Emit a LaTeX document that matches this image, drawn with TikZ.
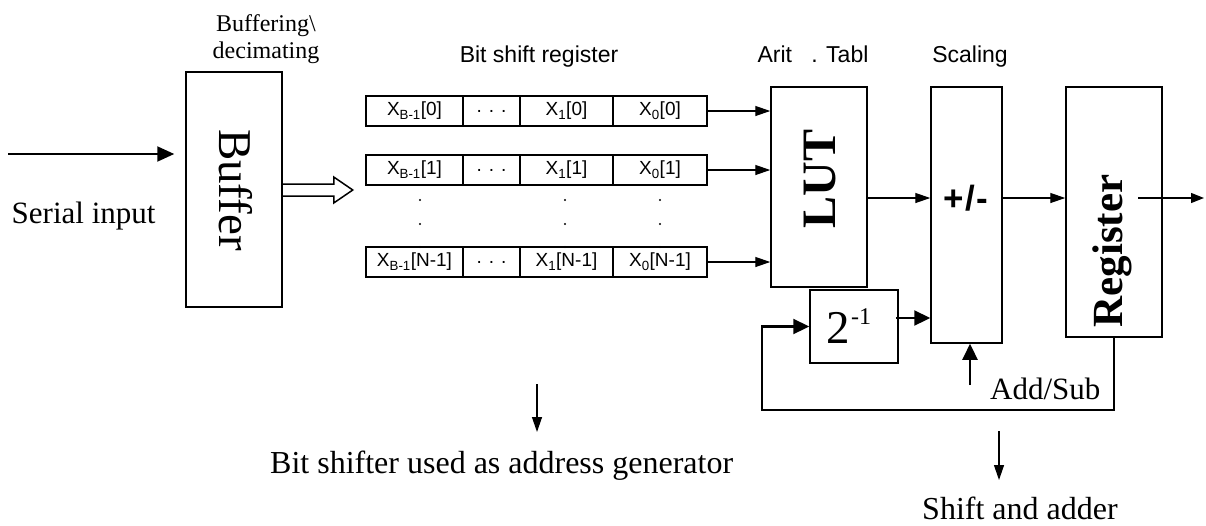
\documentclass[tikz,border=0pt]{standalone}
\usepackage{fontspec}
\setmainfont{Liberation Serif}
\newfontfamily\arialf{Liberation Sans}
\usetikzlibrary{arrows.meta,calc}
\begin{document}
\begin{tikzpicture}[x=1pt,y=-1pt,
  blk/.style={draw, line width=1.5pt, inner sep=0pt},
  cell/.style={draw, line width=1.3pt, minimum height=30pt, inner sep=0pt, font=\arialf\fontsize{19}{22}\selectfont},
  tarr/.style={line width=1.3pt, -{Triangle[length=15pt,width=10pt]}},
  karr/.style={line width=2.2pt, -{Triangle[length=16pt,width=15pt]}},
  lbl/.style={inner sep=0pt, font=\arialf\fontsize{23}{27}\selectfont},
  txt/.style={inner sep=0pt}
]
\useasboundingbox (0,0) rectangle (1206,525);

% buffer
\node[blk, minimum width=96pt, minimum height=235pt] (buf) at (234,189.5) {};
\node[txt, rotate=-90, font=\fontsize{47}{50}\selectfont] (buft) at (235.5,190) {Buffer};
\node[txt, align=center, font=\fontsize{24}{27}\selectfont] (bufl) at (266,39.5) {Buffering\textbackslash\\decimating};

% serial input
\coordinate (sin) at (8,154);
\draw[line width=2pt, -{Triangle[length=17pt,width=15pt]}] (sin) -- ($(sin -| buf.west)+(-11,0)$);
\node[txt, anchor=base west, font=\fontsize{31}{34}\selectfont] (serial) at (11.5,223) {Serial input};

% hollow arrow
\draw[line width=1.5pt, line join=miter] ($(buf.east)+(0,-5.5)$) -- ($(buf.east)+(51,-5.5)$) -- ($(buf.east)+(51,-12.5)$) -- ($(buf.east)+(70,0.5)$) -- ($(buf.east)+(51,13.5)$) -- ($(buf.east)+(51,6.5)$) -- ($(buf.east)+(0,6.5)$);

% shift register rows
\node[cell, minimum width=97pt] (a0) at (414.5,111) {X\textsubscript{B-1}[0]};
\node[cell, minimum width=57pt] (b0) at (491.5,111) {. . .};
\node[cell, minimum width=93pt] (c0) at (566.5,111) {X\textsubscript{1}[0]};
\node[cell, minimum width=94pt] (d0) at (660,111) {X\textsubscript{0}[0]};

\node[cell, minimum width=97pt] (a1) at (414.5,170) {X\textsubscript{B-1}[1]};
\node[cell, minimum width=57pt] (b1) at (491.5,170) {. . .};
\node[cell, minimum width=93pt] (c1) at (566.5,170) {X\textsubscript{1}[1]};
\node[cell, minimum width=94pt] (d1) at (660,170) {X\textsubscript{0}[1]};

\node[cell, minimum width=97pt] (a2) at (414.5,262) {X\textsubscript{B-1}[N-1]};
\node[cell, minimum width=57pt] (b2) at (491.5,262) {. . .};
\node[cell, minimum width=93pt] (c2) at (566.5,262) {X\textsubscript{1}[N-1]};
\node[cell, minimum width=94pt] (d2) at (660,262) {X\textsubscript{0}[N-1]};

\foreach \x in {420,565,660} \foreach \y in {200,224,247} \fill (\x,\y) circle (1.2pt);

% top labels
\node[lbl, anchor=base] (bsr) at (539,62) {Bit shift register};
\node[lbl, anchor=base] (arit) at (813,62) {Arit\ \ \ . Tabl};
\node[lbl, anchor=base] (scal) at (970,62) {Scaling};

% LUT
\node[blk, minimum width=96pt, minimum height=200pt] (lut) at (819,187) {};
\node[txt, rotate=90, font=\bfseries\fontsize{48}{50}\selectfont] (lutt) at (820,179) {LUT};
\draw[tarr] (d0.east) -- (d0.east -| lut.west);
\draw[tarr] (d1.east) -- (d1.east -| lut.west);
\draw[tarr] (d2.east) -- (d2.east -| lut.west);

% +/-
\node[blk, minimum width=71pt, minimum height=256pt] (pm) at (966.5,215) {};
\node[txt, font=\arialf\bfseries\fontsize{35}{40}\selectfont] (pmt) at (966,198.5) {+\kern1.5pt/\kern1.5pt-};

% register
\node[blk, minimum width=96pt, minimum height=250pt] (reg) at (1114,212) {};
\node[txt, rotate=90, font=\bfseries\fontsize{43}{45}\selectfont] (regt) at (1112,251) {Register};

% 2^-1
\node[blk, minimum width=88pt, minimum height=73pt] (half) at (854,326.5) {};
\node[txt, anchor=base west] (halft) at (826.5,343.3) {\fontsize{47}{50}\selectfont 2\kern1pt\raisebox{19pt}{\fontsize{24}{26}\selectfont -1}};

% connections
\draw[tarr] ($(lut.east)+(0,11)$) -- ($(pm.west)+(0,-17)$);
\draw[tarr] ($(pm.east)+(0,-17)$) -- ($(reg.west)+(0,-14)$);
\coordinate (out) at (1204,198);
\draw[line width=1.3pt, -{Triangle[length=13pt,width=10pt]}] ($(reg.center)+(24,-14)$) -- (out);
\draw[karr] ($(half.east)+(-3,-8.5)$) -- ($(pm.west)+(0,103)$);
\coordinate (fb) at (762,410);
\draw[karr] (reg.south) |- (fb) |- (half.west);
\coordinate (as) at (970,385);
\draw[karr] (as) -- (as |- pm.south);
\node[txt, anchor=base west, font=\fontsize{31}{34}\selectfont] (addsub) at (990,399) {Add/Sub};

% bottom labels
\coordinate (bsa) at (537,384);
\draw[tarr] (bsa) -- ++(0,48);
\node[txt, anchor=base west, font=\fontsize{32}{36}\selectfont] (bsg) at (270,473) {Bit shifter used as address generator};
\coordinate (saa) at (999,431);
\draw[tarr] (saa) -- ++(0,49);
\node[txt, anchor=base west, font=\fontsize{32}{36}\selectfont] (saad) at (922,519) {Shift and adder};
\end{tikzpicture}
\end{document}
